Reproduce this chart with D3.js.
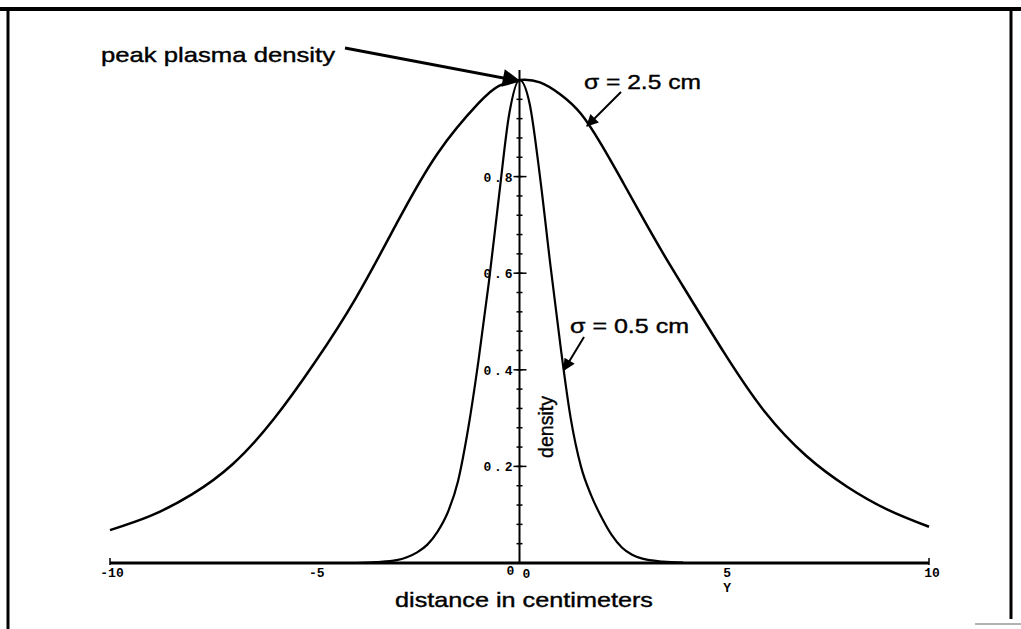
<!DOCTYPE html>
<html>
<head>
<meta charset="utf-8">
<script src="https://cdn.jsdelivr.net/npm/d3@7"></script>
<style>
  body { margin: 0; background: #fff; }
  svg { display: block; }
</style>
</head>
<body>
<div id="chart"></div>
<script>
// values
const wideX = [-10, -9, -8, -7, -6, -5, -4, -3, -2, -1, -0.5, 0, 0.5, 1, 1.5, 2, 2.5, 3, 3.5, 4, 5, 6, 7, 8, 9, 10]
const wideY = [0.068, 0.098, 0.142, 0.205, 0.298, 0.415, 0.548, 0.703, 0.848, 0.952, 0.988, 1.0, 0.995, 0.97, 0.93, 0.866, 0.792, 0.716, 0.642, 0.572, 0.435, 0.312, 0.222, 0.158, 0.11, 0.075]

const narrowX = [-4, -3.5, -3, -2.75, -2.5, -2.25, -2, -1.75, -1.5, -1.25, -1, -0.75, -0.5, -0.25, 0, 0.25, 0.5, 0.75, 1, 1.25, 1.5, 1.75, 2, 2.25, 2.5, 2.75, 3, 3.5, 4]
const narrowY = [0, 0.002, 0.006, 0.012, 0.022, 0.038, 0.065, 0.105, 0.17, 0.28, 0.42, 0.58, 0.76, 0.93, 1.0, 0.95, 0.80, 0.62, 0.45, 0.30, 0.20, 0.14, 0.095, 0.058, 0.032, 0.017, 0.009, 0.003, 0.001]

const xTicks = [-10, -5, 5, 10]
const yMajorTicks = [0.2, 0.4, 0.6, 0.8]
const yMinorTicks = d3.range(1, 26).map(i => +(i * 0.04).toFixed(2))

const width = 1021, height = 629

const svg = d3.select('#chart').append('svg')
    .attr('width', width)
    .attr('height', height)

// page frame
svg.append('line').attr('x1', 0).attr('x2', width).attr('y1', 9).attr('y2', 9)
    .attr('stroke', '#000').attr('stroke-width', 4)
svg.append('line').attr('x1', 8).attr('x2', 8).attr('y1', 7).attr('y2', height)
    .attr('stroke', '#000').attr('stroke-width', 3)
svg.append('line').attr('x1', 1011).attr('x2', 1011).attr('y1', 7).attr('y2', 619)
    .attr('stroke', '#000').attr('stroke-width', 3)
svg.append('line').attr('x1', 975).attr('x2', width).attr('y1', 624).attr('y2', 624)
    .attr('stroke', '#999').attr('stroke-width', 1.5)

const x = d3.scaleLinear().domain([-10, 10]).range([110, 929])
const y = d3.scaleLinear().domain([0, 1]).range([563, 80])

// x axis
svg.append('line')
    .attr('x1', x(-10)).attr('x2', x(10))
    .attr('y1', y(0)).attr('y2', y(0))
    .attr('stroke', '#000').attr('stroke-width', 3)
svg.selectAll('.xend').data([-10, 10]).enter().append('line')
    .attr('x1', d => x(d)).attr('x2', d => x(d))
    .attr('y1', y(0) - 5).attr('y2', y(0) + 2)
    .attr('stroke', '#000').attr('stroke-width', 1.5)

const monoFont = "'Liberation Mono', 'DejaVu Sans Mono', monospace"

svg.selectAll('.xlab').data(xTicks).enter().append('text')
    .attr('x', d => x(d) + (d < 0 ? 2 : 3))
    .attr('y', y(0) + 14)
    .attr('text-anchor', 'middle')
    .style('font-family', monoFont)
    .style('font-size', '13px')
    .style('font-weight', 'bold')
    .text(d => d)

svg.append('text').attr('x', x(0) - 9).attr('y', y(0) + 12)
    .attr('text-anchor', 'middle')
    .style('font-family', monoFont).style('font-size', '13px').style('font-weight', 'bold')
    .text('0')
svg.append('text').attr('x', x(0) + 7).attr('y', y(0) + 15)
    .attr('text-anchor', 'middle')
    .style('font-family', monoFont).style('font-size', '13px').style('font-weight', 'bold')
    .text('0')
svg.append('text').attr('x', x(5) + 3).attr('y', y(0) + 29)
    .attr('text-anchor', 'middle')
    .style('font-family', monoFont).style('font-size', '13px').style('font-weight', 'bold')
    .text('Y')

// y axis
svg.append('line')
    .attr('x1', x(0)).attr('x2', x(0))
    .attr('y1', y(0)).attr('y2', 70)
    .attr('stroke', '#000').attr('stroke-width', 2)
svg.selectAll('.yminor').data(yMinorTicks).enter().append('line')
    .attr('x1', x(0) - 3).attr('x2', x(0) + 3)
    .attr('y1', d => y(d)).attr('y2', d => y(d))
    .attr('stroke', '#000').attr('stroke-width', 1.5)
svg.selectAll('.ymajor').data(yMajorTicks).enter().append('line')
    .attr('x1', x(0) - 6).attr('x2', x(0) + 7)
    .attr('y1', d => y(d)).attr('y2', d => y(d))
    .attr('stroke', '#000').attr('stroke-width', 1.5)
svg.selectAll('.ylab').data(yMajorTicks).enter().append('text')
    .attr('x', x(0) - 7)
    .attr('y', d => y(d) + 5)
    .attr('text-anchor', 'end')
    .attr('textLength', 29)
    .attr('lengthAdjust', 'spacing')
    .style('font-family', monoFont)
    .style('font-size', '13px')
    .style('font-weight', 'bold')
    .text(d => d.toFixed(1))

// curves
const line = d3.line()
    .x(d => x(d[0]))
    .y(d => y(d[1]))

svg.append('path')
    .datum(wideX.map((v, i) => [v, wideY[i]]))
    .attr('d', line.curve(d3.curveNatural))
    .attr('fill', 'none').attr('stroke', '#000').attr('stroke-width', 2.5)
svg.append('path')
    .datum(narrowX.map((v, i) => [v, narrowY[i]]))
    .attr('d', line.curve(d3.curveMonotoneX))
    .attr('fill', 'none').attr('stroke', '#000').attr('stroke-width', 2.2)

// arrows
const defs = svg.append('defs')
defs.append('marker')
    .attr('id', 'head')
    .attr('viewBox', '0 0 10 10')
    .attr('refX', 9).attr('refY', 5)
    .attr('markerWidth', 7).attr('markerHeight', 6)
    .attr('markerUnits', 'strokeWidth')
    .attr('orient', 'auto')
  .append('path')
    .attr('d', 'M0,0 L10,5 L0,10 Z')
    .attr('fill', '#000')

const sansFont = "'Liberation Sans', Arial, Helvetica, sans-serif"

function note(label, tx, ty, len, ax1, ay1, ax2, ay2, sw) {
    svg.append('text')
        .attr('x', tx).attr('y', ty)
        .attr('textLength', len)
        .attr('lengthAdjust', 'spacingAndGlyphs')
        .style('font-family', sansFont)
        .style('font-size', '21px')
        .attr('stroke', '#000').attr('stroke-width', 0.4)
        .text(label)
    svg.append('line')
        .attr('x1', ax1).attr('y1', ay1)
        .attr('x2', ax2).attr('y2', ay2)
        .attr('stroke', '#000').attr('stroke-width', sw)
        .attr('marker-end', 'url(#head)')
}

note('peak plasma density', 101, 62, 234, 345, 48, 519, 81, 3)
note('σ = 2.5 cm', 584, 89, 117, 621, 92, 587, 126, 2)
note('σ = 0.5 cm', 570, 333, 119, 584, 337, 564, 370, 2)

// axis titles
svg.append('text')
    .attr('x', 524).attr('y', 607)
    .attr('text-anchor', 'middle')
    .attr('textLength', 258)
    .attr('lengthAdjust', 'spacingAndGlyphs')
    .style('font-family', sansFont)
    .style('font-size', '21px')
    .attr('stroke', '#000').attr('stroke-width', 0.4)
    .text('distance in centimeters')

svg.append('text')
    .attr('transform', 'translate(553,427) rotate(-90)')
    .attr('text-anchor', 'middle')
    .attr('textLength', 62)
    .attr('lengthAdjust', 'spacingAndGlyphs')
    .style('font-family', "'Liberation Sans Narrow', " + sansFont)
    .style('font-size', '21px')
    .attr('stroke', '#000').attr('stroke-width', 0.4)
    .text('density')
</script>
</body>
</html>
